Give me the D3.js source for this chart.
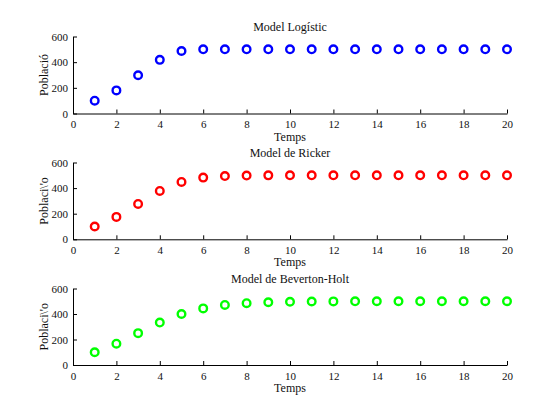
<!DOCTYPE html>
<html><head><meta charset="utf-8">
<script src="https://cdn.jsdelivr.net/npm/d3@7"></script>
<style>body{margin:0;background:#fff}svg{display:block}text{font-family:"Liberation Serif","Times New Roman",serif;fill:#111}</style>
</head><body><svg id="c" width="560" height="420"></svg>
<script>
const steps = d3.range(1, 21);
const logistic = [100,180,298,418,487,500,500,500,500,500,500,500,500,500,500,500,500,500,500,500];
const ricker = [100,175,276,378,448,482,494,498,499.5,500,500,500,500,500,500,500,500,500,500,500];
const beverton = [100,167,250,333,400,444,471,485,492,496,498,499,499.5,500,500,500,500,500,500,500];
const titles = ["Model Logístic","Model de Ricker","Model de Beverton-Holt"];
const ylabels = ["Població","Poblaci\\'o","Poblaci\\'o"];
const colors = ["#0000ff","#ff0000","#00ff00"];
const xTicks = d3.range(0, 21, 2);
const yTicks = [0,200,400,600];
const series = [logistic, ricker, beverton];

const svg = d3.select("#c");
const left = 73, right = 507;
const panels = [{top:36.5,bottom:113.5},{top:162.5,bottom:239.3},{top:288.5,bottom:365}];
const serif = "Liberation Serif, Times New Roman, serif";

panels.forEach((p,i)=>{
  const x = d3.scaleLinear().domain([0,20]).range([left,right]);
  const y = d3.scaleLinear().domain([0,600]).range([p.bottom,p.top]);
  const g = svg.append("g");
  const xa = g.append("g").attr("transform",`translate(0,${p.bottom})`)
    .call(d3.axisBottom(x).tickValues(xTicks).tickSizeInner(-4).tickSizeOuter(0).tickPadding(7));
  const ya = g.append("g").attr("transform",`translate(${left},0)`)
    .call(d3.axisLeft(y).tickValues(yTicks).tickSizeInner(-4).tickSizeOuter(0).tickPadding(5));
  [xa,ya].forEach(a=>{
    a.attr("font-family",serif).attr("font-size",11);
    a.selectAll("path").attr("stroke","#000").attr("stroke-width",1);
    a.selectAll("line").attr("stroke","#000");
    a.selectAll("text").attr("font-family",serif).attr("font-size",11).attr("fill","#222");
  });
  g.append("text").attr("x",(left+right)/2).attr("y",p.top-6).attr("text-anchor","middle")
    .attr("font-family",serif).attr("font-size",12).text(titles[i]);
  g.append("text").attr("x",(left+right)/2).attr("y",p.bottom+27).attr("text-anchor","middle")
    .attr("font-family",serif).attr("font-size",12).text("Temps");
  g.append("text").attr("transform",`translate(48,${(p.top+p.bottom)/2}) rotate(-90)`)
    .attr("text-anchor","middle").attr("font-family",serif).attr("font-size",12).text(ylabels[i]);
  g.selectAll("circle").data(steps).enter().append("circle")
    .attr("cx",d=>x(d)).attr("cy",(d,j)=>y(series[i][j])).attr("r",3.8)
    .attr("fill","none").attr("stroke",colors[i]).attr("stroke-width",2.4);
});
</script></body></html>
